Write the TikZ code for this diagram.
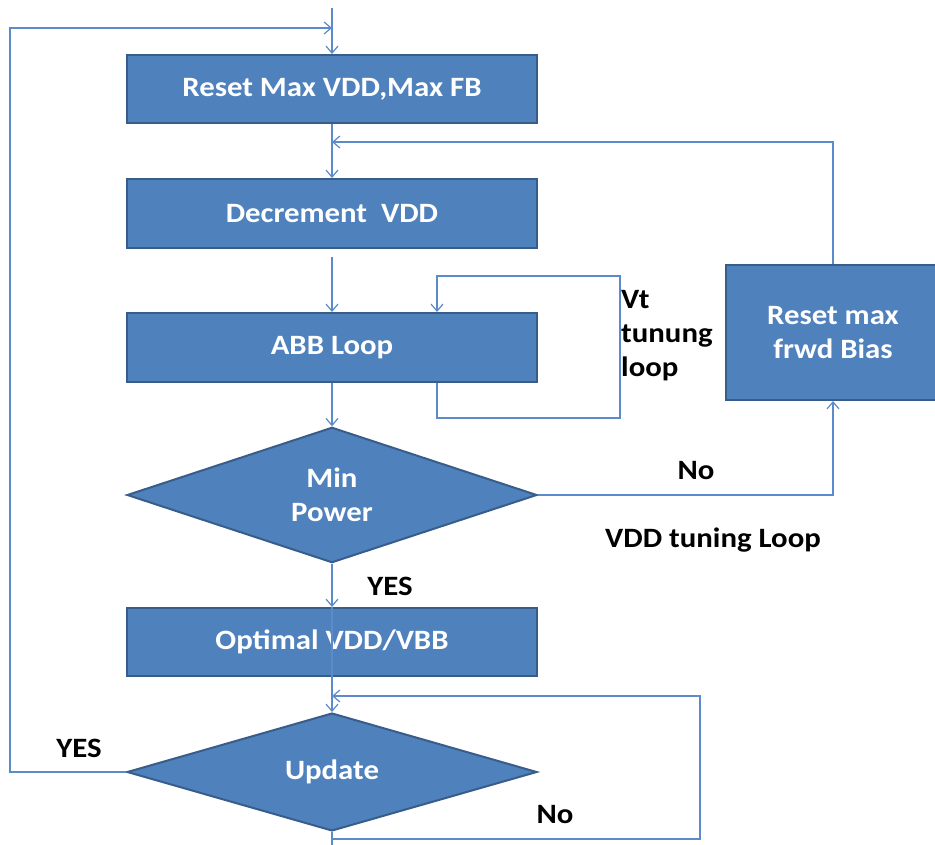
\documentclass[tikz,border=0pt]{standalone}
\usepackage{fontspec}
\setmainfont{Carlito}[FakeStretch=1.1]
\usetikzlibrary{shapes.geometric,arrows.meta,calc}
\definecolor{boxfill}{HTML}{4F81BD}
\definecolor{boxline}{HTML}{385D8A}
\definecolor{conn}{HTML}{5B8BC9}
\tikzset{
  x=1pt,y=-1pt,
  procbox/.style={draw=boxline,line width=2pt,fill=boxfill,text=white,
    font=\fontsize{28}{34}\selectfont\bfseries,minimum width=410pt,inner sep=0pt,align=center},
  decbox/.style={diamond,draw=boxline,line width=2pt,fill=boxfill,text=white,
    font=\fontsize{28}{34}\selectfont\bfseries,minimum width=410pt,minimum height=115pt,
    inner sep=0pt,align=center},
  conline/.style={draw=conn,line width=1.3pt},
  arr/.style={conline,-{Straight Barb[length=7pt,width=12pt,line width=1.2pt]}},
  lbl/.style={text=black,font=\fontsize{28}{34}\selectfont\bfseries,inner sep=0pt,align=left}
}
\begin{document}
\begin{tikzpicture}
\useasboundingbox (0,0) rectangle (935,845);
% nodes
\node[procbox,minimum height=68pt] (reset) at (332,89) {Reset Max VDD,Max FB};
\node[procbox,minimum height=69pt] (dec) at (332,213.5) {Decrement\ \ VDD};
\node[procbox,minimum height=69pt] (abb) at (332,347.5) {ABB Loop};
\node[procbox,minimum width=214pt,minimum height=135pt] (rfb) at (833,332.5) {Reset max\\frwd Bias};
\node[decbox] (minp) at (332,495) {Min\\Power};
\node[procbox,minimum height=68pt] (opt) at (332,642) {Optimal VDD/VBB};
\node[decbox] (upd) at (332,772) {Update};
% labels
\node[lbl,anchor=west] (vtl) at (621,336) {Vt\\tunung\\loop};
\node[lbl] (no1) at (696,471) {No};
\node[lbl] (vddl) at (713,540) {VDD tuning Loop};
\node[lbl] (yes1) at (390,586) {YES};
\node[lbl] (yes2) at (79,748) {YES};
\node[lbl] (no2) at (555,815) {No};
% coordinates
\coordinate (top) at (332,8);
\coordinate (fbA) at (332,28);
\coordinate (L1) at (10,28);
\coordinate (fbB) at (332,142);
\coordinate (decout) at (332,257);
\coordinate (vt1) at (620,418);
\coordinate (vt2) at (620,276);
\coordinate (nb) at (700,839);
\coordinate (nt) at (700,696);
\coordinate (fbC) at (332,696);
\coordinate (bot) at (332,845);
% connectors
\draw[arr] (top) -- (reset.north);
\draw[arr] (upd.west) -| (L1) -- (fbA);
\draw[arr] (reset.south) -- (dec.north);
\draw[arr] (rfb.north) |- (fbB);
\draw[arr] (decout) -- (abb.north);
\draw[arr] ([xshift=105pt]abb.south) |- (vt1) -- (vt2) -| ([xshift=105pt]abb.north);
\draw[arr] (abb.south) -- (minp.north);
\draw[arr] (minp.east) -| (rfb.south);
\draw[arr] (minp.south) -- (opt.north);
\draw[conline] (opt.north) -- (opt.south);
\draw[arr] (opt.south) -- (upd.north);
\draw[conline] (upd.south) -- (bot);
\draw[arr] (upd.south) |- (nb) -- (nt) -- (fbC);
\end{tikzpicture}
\end{document}
